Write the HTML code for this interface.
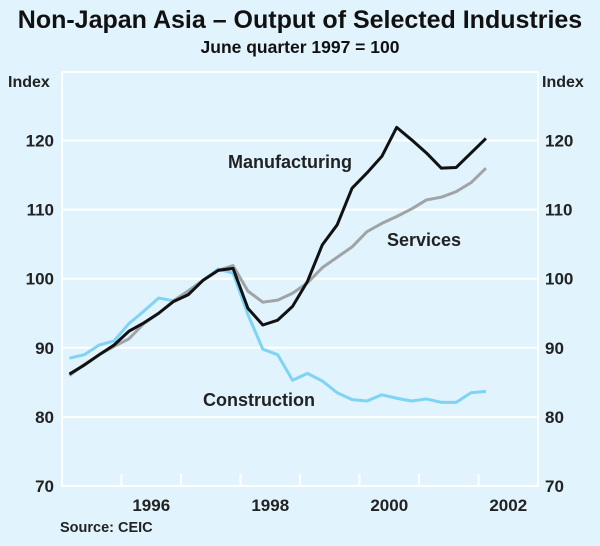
<!DOCTYPE html>
<html><head><meta charset="utf-8"><style>
body{margin:0;background:#e1f3fd;}
svg{display:block;font-family:"Liberation Sans",Arial,sans-serif;}
</style></head><body>
<svg width="600" height="546" xmlns="http://www.w3.org/2000/svg">
<rect width="600" height="546" fill="#e1f3fd"/>
<text x="300" y="28" text-anchor="middle" font-size="25" font-weight="bold" fill="#111">Non-Japan Asia – Output of Selected Industries</text>
<text x="300" y="53" text-anchor="middle" font-size="17.5" font-weight="bold" fill="#111">June quarter 1997 = 100</text>
<text x="8" y="87" font-size="16" font-weight="bold" fill="#222">Index</text>
<text x="542" y="87" font-size="16" font-weight="bold" fill="#222">Index</text>
<g id="grid"></g>
<g id="series"></g>
<text x="228" y="168" font-size="18" font-weight="bold" fill="#222">Manufacturing</text>
<text x="387" y="246" font-size="18" font-weight="bold" fill="#222">Services</text>
<text x="203" y="406" font-size="18" font-weight="bold" fill="#222">Construction</text>
<text x="60" y="532" font-size="14.5" font-weight="bold" fill="#222">Source: CEIC</text>
</svg>
<script>
const yTicks=[70,80,90,100,110,120];
const xYearLabels=["1996","1998","2000","2002"];
const manufacturing=[86.2,87.5,89,90.4,92.4,93.6,95,96.7,97.7,99.8,101.2,101.5,95.7,93.3,94,96,99.6,104.9,107.8,113.1,115.3,117.7,121.9,120.1,118.2,116,116.1,118.2,120.3];
const services=[86,87.6,89,90.2,91.3,93.5,95,96.8,98.2,99.8,101.2,101.9,98.2,96.6,96.9,97.9,99.4,101.6,103.1,104.6,106.8,108,109,110.1,111.4,111.8,112.6,113.9,116];
const construction=[88.5,89,90.4,91,93.5,95.3,97.2,96.8,98.3,99.8,101.4,100.8,94.8,89.8,89,85.3,86.3,85.2,83.5,82.5,82.3,83.2,82.7,82.3,82.6,82.1,82.1,83.5,83.7];
const L=62,R=538,B=486,T=72,x0=1995,years=8;
const ys=v=>486-(v-70)*6.91;
const xs=i=>L+(i+0.5)*(R-L)/(years*4);
const xy=y=>L+(y-x0)*(R-L)/years;
const NS="http://www.w3.org/2000/svg";
const g=document.getElementById('grid');
function mk(t,a,p){const e=document.createElementNS(NS,t);for(const k in a)e.setAttribute(k,a[k]);p.appendChild(e);return e;}
yTicks.forEach(v=>{
 const l=mk('line',{x1:L,x2:R,y1:ys(v),y2:ys(v),stroke:'#fff','stroke-width':2},g);
 
 
 const t1=mk('text',{x:54,y:ys(v)+6,'text-anchor':'end','font-size':17,'font-weight':'bold',fill:'#222'},g);t1.textContent=v;
 
 
 const t2=mk('text',{x:545,y:ys(v)+6,'font-size':17,'font-weight':'bold',fill:'#222'},g);t2.textContent=v;
 
 
});
[L,R].forEach(x=>{const l=mk('line',{x1:x,x2:x,y1:T,y2:B+1,stroke:'#fff','stroke-width':2},g);
 
 });
mk('line',{x1:L,x2:R,y1:T,y2:T,stroke:'#fff','stroke-width':2},g);
for(let y=x0+1;y<x0+years;y++){const l=mk('line',{x1:xy(y),x2:xy(y),y1:B-12,y2:B,stroke:'#fff','stroke-width':2},g);
 
 }
xYearLabels.forEach(s=>{const t=mk('text',{x:xy(+s+0.5),y:511,'text-anchor':'middle','font-size':17,'font-weight':'bold',fill:'#222'},g);t.textContent=s;
 
 });
const sg=document.getElementById('series');
function line(d,c,n){const p=mk('polyline',{points:d.map((v,i)=>xs(i)+','+ys(v)).join(' '),fill:'none',stroke:c,'stroke-width':3,'stroke-linejoin':'round'},sg);
 
 }
line(construction,'#7fd3f5','construction-line');
line(services,'#a0a4a6','services-line');
line(manufacturing,'#111','manufacturing-line');
</script>
</body></html>
